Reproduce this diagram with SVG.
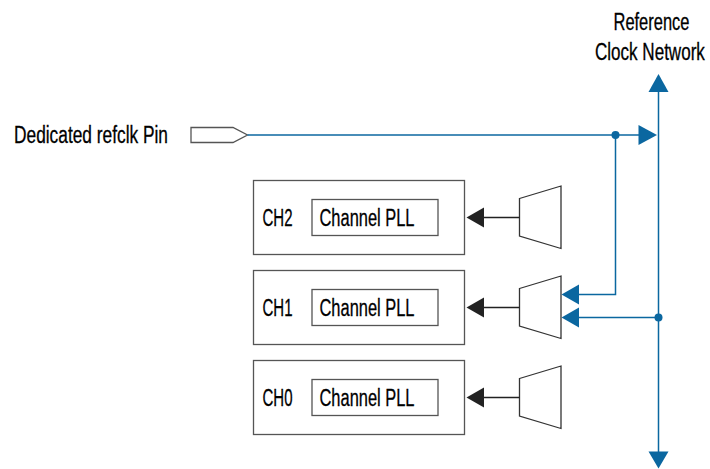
<svg xmlns="http://www.w3.org/2000/svg" width="710" height="469" viewBox="0 0 710 469">
<style>
  text { font-family: "Liberation Sans", Arial, sans-serif; font-size: 23px; fill: #000; stroke: #000; stroke-width: 0.3; }
  .box { fill: #fff; stroke: #555; stroke-width: 1.3; }
  .mux { fill: #fff; stroke: #333; stroke-width: 1.3; }
  .blk { stroke: #222; stroke-width: 1.3; fill: none; }
  .blue { stroke: #0b67a0; stroke-width: 1.5; fill: none; }
  .bluefill { fill: #0b67a0; }
  .ah { fill: #222; }
</style>
<rect width="710" height="469" fill="#fff"/>

<g id="label-refclk-network">
  <text transform="translate(613.5,29.5) scale(0.73,1)" x="0" y="0" textLength="104" lengthAdjust="spacingAndGlyphs">Reference</text>
  <text transform="translate(595,59.5) scale(0.73,1)" x="0" y="0" textLength="150.5" lengthAdjust="spacingAndGlyphs">Clock Network</text>
</g>

<g id="refclk-pin">
  <text x="14" y="142.5" textLength="154" lengthAdjust="spacingAndGlyphs">Dedicated refclk Pin</text>
  <polygon class="box" points="191,127.5 233,127.5 247.5,135 233,142.5 191,142.5"/>
</g>

<g id="ch2">
  <rect class="box" x="253.5" y="180.5" width="211" height="74"/>
  <text x="262.5" y="225.5" textLength="30" lengthAdjust="spacingAndGlyphs">CH2</text>
  <rect class="box" x="312" y="199.5" width="126" height="36"/>
  <text x="319.5" y="225.5" textLength="95" lengthAdjust="spacingAndGlyphs">Channel PLL</text>
</g>
<g id="ch1">
  <rect class="box" x="253.5" y="270.5" width="211" height="74"/>
  <text x="262.5" y="315.5" textLength="30" lengthAdjust="spacingAndGlyphs">CH1</text>
  <rect class="box" x="312" y="289.5" width="126" height="36"/>
  <text x="319.5" y="315.5" textLength="95" lengthAdjust="spacingAndGlyphs">Channel PLL</text>
</g>
<g id="ch0">
  <rect class="box" x="253.5" y="360.5" width="211" height="74"/>
  <text x="262.5" y="405.5" textLength="30" lengthAdjust="spacingAndGlyphs">CH0</text>
  <rect class="box" x="312" y="379.5" width="126" height="36"/>
  <text x="319.5" y="405.5" textLength="95" lengthAdjust="spacingAndGlyphs">Channel PLL</text>
</g>

<g id="mux2"><polygon class="mux" points="519.5,198.5 561,186 561,248.5 519.5,236"/></g>
<g id="mux1"><polygon class="mux" points="519.5,288.5 561,276 561,338.5 519.5,326"/></g>
<g id="mux0"><polygon class="mux" points="519.5,378.5 561,366 561,428.5 519.5,416"/></g>

<g id="connectors">
  <line class="blk" x1="483" y1="217.5" x2="519.5" y2="217.5"/>
  <polygon class="ah" points="466.5,217.5 484,207.5 484,227.5"/>
  <line class="blk" x1="483" y1="307.5" x2="519.5" y2="307.5"/>
  <polygon class="ah" points="466.5,307.5 484,297.5 484,317.5"/>
  <line class="blk" x1="483" y1="397.5" x2="519.5" y2="397.5"/>
  <polygon class="ah" points="466.5,397.5 484,387.5 484,407.5"/>

  <line class="blue" x1="658.5" y1="90" x2="658.5" y2="453"/>
  <polygon class="bluefill" points="658.5,74 668.5,92 648.5,92"/>
  <polygon class="bluefill" points="658.5,468.5 648.5,451.5 668.5,451.5"/>

  <line class="blue" x1="247.5" y1="135" x2="640" y2="135"/>
  <polygon class="bluefill" points="638.5,125 657,135 638.5,145"/>
  <circle class="bluefill" cx="615.5" cy="135" r="4"/>

  <polyline class="blue" points="615.5,135 615.5,294.5 577,294.5"/>
  <polygon class="bluefill" points="561.5,294.5 579,284.5 579,304.5"/>

  <line class="blue" x1="658.5" y1="317.5" x2="577" y2="317.5"/>
  <polygon class="bluefill" points="561.5,317.5 579,307.5 579,327.5"/>
  <circle class="bluefill" cx="658.5" cy="317.5" r="4"/>
</g>
</svg>
